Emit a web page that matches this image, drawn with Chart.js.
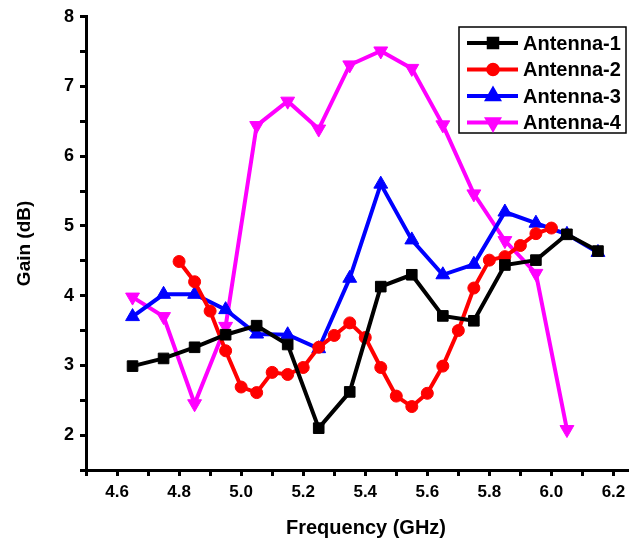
<!DOCTYPE html>
<html>
<head>
<meta charset="utf-8">
<script src="https://cdn.jsdelivr.net/npm/chart.js@4"></script>
<style>
  html, body { margin: 0; padding: 0; background: #fff; }
  #wrap { width: 629px; height: 541px; }
</style>
</head>
<body>
<div id="wrap"><canvas id="gainChart" width="629" height="541"></canvas></div>
<script>
// frequencies (GHz)
var freqA = [4.65, 4.75, 4.85, 4.95, 5.05, 5.15, 5.25, 5.35, 5.45, 5.55, 5.65, 5.75, 5.85, 5.95, 6.05, 6.15];
var freqB = [4.80, 4.85, 4.90, 4.95, 5.00, 5.05, 5.10, 5.15, 5.20, 5.25, 5.30, 5.35, 5.40, 5.45, 5.50,
             5.55, 5.60, 5.65, 5.70, 5.75, 5.80, 5.85, 5.90, 5.95, 6.00];
var freqD = [4.65, 4.75, 4.85, 4.95, 5.05, 5.15, 5.25, 5.35, 5.45, 5.55, 5.65, 5.75, 5.85, 5.95, 6.05];

// gain (dB)
var antenna1 = [2.99, 3.10, 3.26, 3.44, 3.57, 3.30, 2.10, 2.62, 4.13, 4.30, 3.71, 3.64, 4.44, 4.51, 4.88, 4.64];
var antenna2 = [4.49, 4.20, 3.78, 3.21, 2.69, 2.61, 2.90, 2.87, 2.97, 3.26, 3.43, 3.61, 3.40, 2.97, 2.56,
                2.41, 2.60, 2.99, 3.50, 4.11, 4.51, 4.56, 4.72, 4.89, 4.97];
var antenna3 = [3.70, 4.02, 4.02, 3.80, 3.45, 3.44, 3.24, 4.25, 5.60, 4.80, 4.30, 4.45, 5.20, 5.04, 4.88, 4.62];
var antenna4 = [3.98, 3.70, 2.45, 3.56, 6.44, 6.79, 6.39, 7.31, 7.51, 7.26, 6.45, 5.46, 4.79, 4.32, 2.08];

var seriesNames = ["Antenna-1", "Antenna-2", "Antenna-3", "Antenna-4"];

// x tick positions (labelled every second one)
var xTickValues = [4.5, 4.6, 4.7, 4.8, 4.9, 5.0, 5.1, 5.2, 5.3, 5.4, 5.5, 5.6, 5.7, 5.8, 5.9, 6.0, 6.1, 6.2];

function pts(xs, ys) {
    var out = [];
    for (var i = 0; i < xs.length; i++) out.push({ x: xs[i], y: ys[i] });
    return out;
}

var FONT = "'Liberation Sans', Arial, sans-serif";

function ds(label, data, color, style, radius, rot) {
    return {
        label: label,
        data: data,
        borderColor: color,
        backgroundColor: color,
        borderWidth: 4,
        pointStyle: style,
        pointRadius: radius,
        pointRotation: rot || 0,
        pointBorderWidth: 1,
        pointBorderColor: color,
        pointBackgroundColor: color,
        tension: 0,
        fill: false
    };
}

// legend inside the plot (line + marker) and the x title, centred like the original
var insideLegend = {
    id: "insideLegend",
    afterDraw: function (chart) {
        var ctx = chart.ctx;
        var x0 = 459, y0 = 27, w = 167, h = 106;
        ctx.save();
        ctx.fillStyle = "#fff";
        ctx.fillRect(x0, y0, w, h);
        ctx.strokeStyle = "#000";
        ctx.lineWidth = 1.5;
        ctx.strokeRect(x0, y0, w, h);
        ctx.font = "bold 20px " + FONT;
        ctx.textBaseline = "middle";
        chart.data.datasets.forEach(function (d, i) {
            var y = y0 + 16 + i * 26.5;
            ctx.strokeStyle = d.borderColor;
            ctx.lineWidth = 4;
            ctx.beginPath();
            ctx.moveTo(467, y);
            ctx.lineTo(518, y);
            ctx.stroke();
            ctx.fillStyle = d.borderColor;
            Chart.helpers.drawPoint(ctx, {
                pointStyle: d.pointStyle,
                radius: d.pointRadius * 0.8,
                rotation: d.pointRotation,
                borderWidth: 1
            }, 493, y);
            ctx.fillStyle = "#000";
            ctx.fillText(seriesNames[i], 523, y + 1);
        });
        ctx.font = "bold 20px " + FONT;
        ctx.textAlign = "center";
        ctx.textBaseline = "middle";
        ctx.fillStyle = "#000";
        ctx.fillText("Frequency (GHz)", 366, 528);
        ctx.restore();
    }
};

new Chart(document.getElementById("gainChart"), {
    type: "line",
    data: {
        datasets: [
            ds(seriesNames[0], pts(freqA, antenna1), "#000000", "rect", 7.5),
            ds(seriesNames[1], pts(freqB, antenna2), "#ff0000", "circle", 6),
            ds(seriesNames[2], pts(freqA, antenna3), "#0000ff", "triangle", 8),
            ds(seriesNames[3], pts(freqD, antenna4), "#ff00ff", "triangle", 8, 180)
        ]
    },
    options: {
        responsive: false,
        animation: false,
        layout: { autoPadding: false, padding: { left: 0, right: 0, top: 15, bottom: 0 } },
        plugins: {
            legend: { display: false },
            tooltip: { enabled: false }
        },
        scales: {
            x: {
                type: "linear",
                min: 4.5,
                max: 6.25,
                afterFit: function (s) {
                    s.height = 71;
                    s.paddingLeft = 0;
                    s.paddingRight = 0;
                },
                afterBuildTicks: function (s) {
                    s.ticks = xTickValues.map(function (v) { return { value: v }; });
                },
                border: { display: true, color: "#000", width: 3 },
                grid: { drawOnChartArea: false, drawTicks: true, tickLength: 6, tickColor: "#000", tickWidth: 3 },
                ticks: {
                    autoSkip: false,
                    maxRotation: 0,
                    padding: 6,
                    color: "#000",
                    font: { family: FONT, size: 17, weight: "bold" },
                    callback: function (v) {
                        var k = Math.round(v * 10);
                        return k % 2 === 0 ? (k / 10).toFixed(1) : "";
                    }
                },
                title: { display: false }
            },
            y: {
                min: 1.5,
                max: 8,
                afterFit: function (s) { s.width = 86; },
                border: { display: true, color: "#000", width: 3 },
                grid: { drawOnChartArea: false, drawTicks: true, tickLength: 6, tickColor: "#000", tickWidth: 3 },
                ticks: {
                    stepSize: 0.5,
                    autoSkip: false,
                    padding: 6,
                    color: "#000",
                    font: { family: FONT, size: 18, weight: "bold" },
                    callback: function (v) {
                        return Math.abs(v - Math.round(v)) < 1e-6 ? String(Math.round(v)) : "";
                    }
                },
                title: {
                    display: true,
                    text: "Gain (dB)",
                    color: "#000",
                    font: { family: FONT, size: 19, weight: "bold" },
                    padding: { top: 13, bottom: 0 }
                }
            }
        }
    },
    plugins: [insideLegend]
});
</script>
</body>
</html>
